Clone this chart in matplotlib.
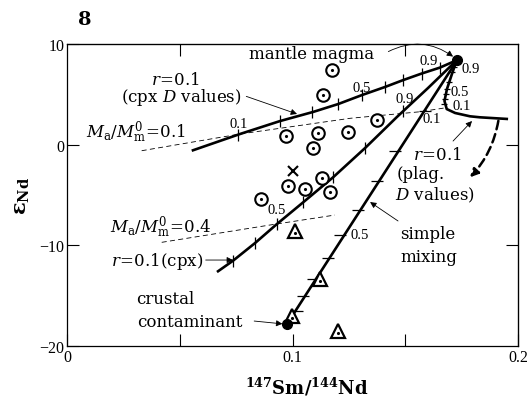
import numpy as np
import matplotlib
matplotlib.use("Agg")
import matplotlib.pyplot as plt

plt.rcParams['mathtext.fontset'] = 'dejavuserif'

# ---------- data (x = 147Sm/144Nd, y = eps Nd) ----------
mantle = (0.173, 8.4)
crust = (0.0976, -17.8)

# AFC curve, r=0.1 with cpx D values (upper)
upper_x = [0.0553, 0.0767, 0.0945, 0.1091, 0.1203, 0.1308, 0.1410, 0.1491, 0.1573, 0.1654, 0.1729]
upper_y = [-0.60, 1.06, 2.35, 3.25, 4.04, 4.93, 5.73, 6.42, 7.07, 7.66, 8.40]
upper_tick_x = [0.0760, 0.0945, 0.1085, 0.1203, 0.1308, 0.1410, 0.1491, 0.1573, 0.1654]
upper_tick_y = [1.01, 2.35, 3.20, 4.04, 4.93, 5.73, 6.42, 7.07, 7.66]

# AFC curve, r=0.1 (cpx) (lower)
mid_x = [0.0665, 0.0736, 0.0834, 0.0931, 0.1047, 0.1180, 0.1322, 0.1463, 0.1601, 0.1729]
mid_y = [-12.65, -11.53, -9.77, -7.88, -5.73, -3.24, -0.33, 2.75, 5.63, 8.40]
mid_tick_x = [0.0736, 0.0834, 0.0931, 0.1047, 0.1180, 0.1322, 0.1490]
mid_tick_y = [-11.53, -9.77, -7.88, -5.73, -3.24, -0.33, 3.32]

# simple mixing ticks
mix_tick_x = [0.1019, 0.1048, 0.1092, 0.1159, 0.1211, 0.1292, 0.1373, 0.1455, 0.1586]
mix_tick_y = [-16.49, -15.0, -13.34, -11.26, -8.97, -6.46, -3.58, -0.60, 3.37]

# r=0.1 plag D values
plag_x = [0.1729, 0.1707, 0.1685, 0.1674, 0.1684, 0.1721, 0.1787, 0.1831, 0.1956]
plag_y = [8.44, 7.02, 5.53, 4.34, 3.54, 3.15, 2.82, 2.72, 2.55]
plag_tick_x = [0.1718, 0.1709, 0.1694, 0.1685, 0.1680, 0.1676, 0.1674]
plag_tick_y = [7.68, 7.19, 6.19, 5.53, 5.03, 4.54, 4.04]

# Ma/Mm0 dashed lines
ma01_x = [0.0331, 0.0767, 0.1255, 0.1565, 0.1672]
ma01_y = [-0.60, 1.06, 2.62, 3.27, 3.64]
ma04_x = [0.0420, 0.0900, 0.1188]
ma04_y = [-9.70, -7.98, -6.99]

# samples
circ_x = [0.1174, 0.1137, 0.1373, 0.0971, 0.1114, 0.1248, 0.1092, 0.0981, 0.1055, 0.1130, 0.1166, 0.0860]
circ_y = [7.45, 4.93, 2.48, 0.83, 1.13, 1.23, -0.36, -4.08, -4.40, -3.34, -4.73, -5.40]
tri_x = [0.1011, 0.1122, 0.0998, 0.1202]
tri_y = [-8.55, -13.34, -16.99, -18.48]
cross_x = [0.1004]
cross_y = [-2.59]

# ---------- figure ----------
fig = plt.figure(figsize=(5.29, 4.02), dpi=100)
ax = fig.add_axes([0.1267, 0.1368, 0.8525, 0.7512])
ax.set_xlim(0, 0.2)
ax.set_ylim(-20, 10)

lw_thick = 1.9
ax.plot(upper_x, upper_y, color='black', lw=lw_thick, solid_capstyle='butt')
ax.plot(mid_x, mid_y, color='black', lw=lw_thick, solid_capstyle='butt')
ax.plot([crust[0], mantle[0]], [crust[1], mantle[1]], color='black', lw=lw_thick)
ax.plot(plag_x, plag_y, color='black', lw=lw_thick, solid_capstyle='butt')

ax.plot(upper_tick_x, upper_tick_y, ls='none', marker='|', ms=8, mew=0.9, color='black')
ax.plot(mid_tick_x, mid_tick_y, ls='none', marker='|', ms=8, mew=0.9, color='black')
ax.plot(mix_tick_x, mix_tick_y, ls='none', marker='_', ms=8, mew=0.9, color='black')
ax.plot(plag_tick_x, plag_tick_y, ls='none', marker='_', ms=5, mew=0.9, color='black')

ax.plot(ma01_x, ma01_y, color='black', lw=0.6, dashes=(6, 4))
ax.plot(ma04_x, ma04_y, color='black', lw=0.6, dashes=(6, 4))

# end members
ax.plot(*mantle, 'o', color='black', ms=7, zorder=5)
ax.plot(*crust, 'o', color='black', ms=7, zorder=5)

# samples
ax.plot(circ_x, circ_y, ls='none', marker='o', ms=9, mfc='white', mec='black', mew=1.5, zorder=4)
ax.plot(circ_x, circ_y, ls='none', marker='.', ms=2.5, color='black', zorder=4)
ax.plot(tri_x, tri_y, ls='none', marker='^', ms=10, mfc='white', mec='black', mew=1.6, zorder=4)
ax.plot(tri_x, np.array(tri_y) - 0.25, ls='none', marker='.', ms=2.5, color='black', zorder=4)
ax.plot(cross_x, cross_y, ls='none', marker='x', ms=7, mew=1.5, color='black', zorder=4)

# ---------- labels ----------
tfont = dict(family='DejaVu Serif', fontsize=12)
nfont = dict(family='Liberation Serif', fontsize=10.5, ha='center', va='center')
arr = dict(arrowstyle='-|>', color='black', lw=0.6, mutation_scale=9, shrinkA=0, shrinkB=0)

ax.text(0.1085, 9.05, 'mantle magma', ha='center', va='center', **tfont)
ax.annotate('', xy=(0.1712, 8.75), xytext=(0.1425, 9.25),
            arrowprops=dict(arr, connectionstyle='arc3,rad=-0.3'))

ax.text(0.0483, 6.5, r'$r\!=\!0.1$', ha='center', va='center', **tfont)
ax.text(0.0506, 4.75, r'(cpx $D$ values)', ha='center', va='center', **tfont)
ax.annotate('', xy=(0.102, 3.05), xytext=(0.0795, 4.8), arrowprops=arr)

ax.text(0.0306, 1.3, r'$M_{\rm a}/M_{\rm m}^{0}\!=\!0.1$', ha='center', va='center', **tfont)
ax.text(0.0417, -8.15, r'$M_{\rm a}/M_{\rm m}^{0}\!=\!0.4$', ha='center', va='center', **tfont)

ax.text(0.0399, -11.5, r'$r\!=\!0.1$(cpx)', ha='center', va='center', **tfont)
ax.annotate('', xy=(0.0736, -11.46), xytext=(0.0615, -11.46), arrowprops=arr)

ax.text(0.0306, -15.33, 'crustal', ha='left', va='center', **tfont)
ax.text(0.031, -17.52, 'contaminant', ha='left', va='center', **tfont)
ax.annotate('', xy=(0.0955, -17.8), xytext=(0.0830, -17.52), arrowprops=arr)

ax.text(0.1477, -8.87, 'simple', ha='left', va='center', **tfont)
ax.text(0.1477, -11.06, 'mixing', ha='left', va='center', **tfont)
ax.annotate('', xy=(0.1344, -5.70), xytext=(0.1468, -7.58), arrowprops=arr)

ax.text(0.1534, -0.93, r'$r\!=\!0.1$', ha='left', va='center', **tfont)
ax.text(0.1463, -2.91, '(plag.', ha='left', va='center', **tfont)
ax.text(0.1455, -4.9, r'$D$ values)', ha='left', va='center', **tfont)
ax.annotate('', xy=(0.1796, 2.35), xytext=(0.1712, 0.36), arrowprops=arr)

# thick dashed arrow
ax.annotate('', xy=(0.1787, -3.24), xytext=(0.1913, 2.38),
            arrowprops=dict(arrowstyle='-|>', color='black', lw=1.8, ls=(0, (3.5, 2)),
                            mutation_scale=12, shrinkA=0, shrinkB=0,
                            connectionstyle='arc3,rad=-0.15'))

# numbers on curves
for x, y, s in [(0.0763, 2.15, '0.1'), (0.1308, 5.73, '0.5'), (0.1605, 8.41, '0.9'),
                (0.0931, -6.39, '0.5'), (0.1499, 4.54, '0.9'),
                (0.1619, 2.65, '0.1'), (0.1299, -8.97, '0.5'),
                (0.1792, 7.52, '0.9'), (0.1743, 5.33, '0.5'), (0.1752, 3.94, '0.1')]:
    ax.text(x, y, s, **nfont)

# ---------- axes styling ----------
for sp in ax.spines.values():
    sp.set_linewidth(0.9)
ax.set_xticks([0, 0.1, 0.2])
ax.set_xticklabels(['0', '0.1', '0.2'])
ax.set_xticks([0.05, 0.15], minor=True)
ax.set_yticks([-20, -10, 0, 10])
ax.set_yticklabels(['\u221220', '\u221210', '0', '10'])
ax.tick_params(which='both', direction='in', length=8.5, width=0.8, pad=2,
               labelsize=11.5)
for lab in ax.get_xticklabels() + ax.get_yticklabels():
    lab.set_family('Liberation Serif')

top = ax.secondary_xaxis('top')
top.set_xticks([0.05, 0.15])
top.set_xticklabels([])
top.tick_params(direction='in', length=8.5, width=0.8)
right = ax.secondary_yaxis('right')
right.set_yticks([-10, 0])
right.set_yticklabels([])
right.tick_params(direction='in', length=8.5, width=0.8)

fig.text(22 / 529, 1 - 196 / 402, r'$\boldsymbol{\varepsilon}_{\mathbf{Nd}}$',
         rotation=90, ha='center', va='center', fontsize=15)
fig.text(307 / 529, 1 - 387 / 402, r'$^{\mathbf{147}}\mathbf{Sm/}^{\mathbf{144}}\mathbf{Nd}$',
         ha='center', va='center', fontsize=13)
fig.text(85 / 529, 1 - 20 / 402, '8', ha='center', va='center',
         family='DejaVu Serif', fontweight='bold', fontsize=14)

fig.savefig('out.png', dpi=100)
